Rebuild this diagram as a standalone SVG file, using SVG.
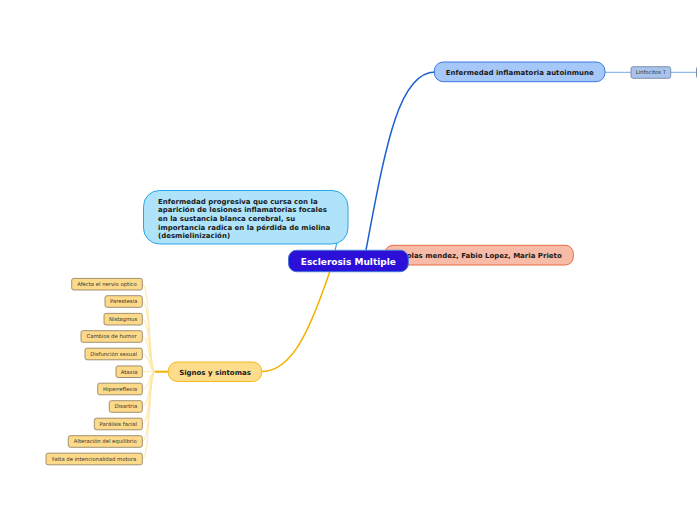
<svg xmlns="http://www.w3.org/2000/svg" width="697" height="520" viewBox="0 0 697 520">
<style>
.t{font-family:"DejaVu Sans",Verdana,sans-serif;font-weight:bold;font-size:7px;fill:#1a1a1a}
.lt{font-family:"DejaVu Sans",Verdana,sans-serif;font-size:5.3px;fill:#333;text-anchor:middle}
.leaf rect{fill:#fdd98a;stroke:#8a7a5a;stroke-width:0.8}
.fan{fill:none;stroke:#fde6a6;stroke-width:1}
</style>
<rect width="697" height="520" fill="#ffffff"/>
<g id="connectors">
<path d="M366,250 C385,150 398,72 435,72" fill="none" stroke="#1a5fd0" stroke-width="1.5"/>
<line x1="605" y1="72.3" x2="631" y2="72.3" stroke="#7aa6e6" stroke-width="1"/>
<line x1="670.7" y1="72.3" x2="697" y2="72.3" stroke="#7aa6e6" stroke-width="1"/>
<path d="M336.7,243 L335,251" fill="none" stroke="#2aa6e6" stroke-width="1.2"/>
<path d="M262,371.5 C292,371.5 310,330 330,271" fill="none" stroke="#f5b000" stroke-width="1.5"/>
<line x1="153" y1="371.7" x2="169" y2="371.7" stroke="#f5b000" stroke-width="2"/>
<path class="fan" d="M142.3,284.2 C150,284.2 149,371.7 155,371.7"/>
<path class="fan" d="M142.3,301.5 C150,301.5 149,371.7 155,371.7"/>
<path class="fan" d="M142.3,319.2 C150,319.2 149,371.7 155,371.7"/>
<path class="fan" d="M142.3,336.5 C150,336.5 149,371.7 155,371.7"/>
<path class="fan" d="M142.3,354 C150,354 149,371.7 155,371.7"/>
<path class="fan" d="M142.3,371.7 L155,371.7"/>
<path class="fan" d="M142.3,389 C150,389 149,371.7 155,371.7"/>
<path class="fan" d="M142.3,406.5 C150,406.5 149,371.7 155,371.7"/>
<path class="fan" d="M142.3,424 C150,424 149,371.7 155,371.7"/>
<path class="fan" d="M142.3,441.5 C150,441.5 149,371.7 155,371.7"/>
<path class="fan" d="M142.3,459 C150,459 149,371.7 155,371.7"/>
</g>
<g id="desc">
<rect x="143.5" y="190.5" width="204.5" height="53.5" rx="16" fill="#aee3f9" stroke="#2aa6e6" stroke-width="1"/>
<text class="t" x="158"><tspan x="158" y="203.5">Enfermedad progresiva que cursa con la</tspan><tspan x="158" y="212.2">aparición de lesiones inflamatorias focales</tspan><tspan x="158" y="220.9">en la sustancia blanca cerebral, su</tspan><tspan x="158" y="229.6">importancia radica en la pérdida de mielina</tspan><tspan x="158" y="238.3">(desmielinización)</tspan></text>
</g>
<g id="autores">
<rect x="385" y="245.3" width="188.3" height="19.7" rx="8" fill="#f8bba8" stroke="#e86a40" stroke-width="1"/>
<text class="t" x="478" y="258" text-anchor="middle">Nicolas mendez, Fabio Lopez, Maria Prieto</text>
</g>
<g id="central">
<rect x="288.5" y="250.3" width="119.8" height="21.4" rx="8" fill="#2d10d8" stroke="#3f78d8" stroke-width="1"/>
<text x="348.4" y="265" text-anchor="middle" style="font-family:'DejaVu Sans',Verdana,sans-serif;font-weight:bold;font-size:9px;fill:#ffffff">Esclerosis Multiple</text>
</g>
<g id="enfermedad">
<rect x="434.3" y="62" width="170.7" height="19.7" rx="9" fill="#a6c8f8" stroke="#3a78e0" stroke-width="1"/>
<text class="t" x="519.7" y="74.6" text-anchor="middle">Enfermedad inflamatoria autoinmune</text>
</g>
<g id="linfocitos" class="leaf">
<rect x="631" y="66.7" width="39.7" height="11.6" rx="2" style="fill:#a8c4ec;stroke:#6b7b96"/>
<text class="lt" x="650.8" y="74.3">Linfocitos T</text>
</g>
<g id="next">
<rect x="696.5" y="66.7" width="20" height="11.6" rx="2" fill="#a8c4ec" stroke="#6b7b96" stroke-width="0.8"/>
</g>
<g id="signos">
<rect x="168.3" y="362" width="93.4" height="19.5" rx="9" fill="#fddc8c" stroke="#f5b820" stroke-width="1"/>
<text class="t" x="215" y="374.6" text-anchor="middle">Signos y sintomas</text>
</g>
<g id="leaf1" class="leaf"><rect x="71.7" y="278.4" width="70.6" height="11.6" rx="2"/><text class="lt" x="107" y="286.1">Afecta el nervio optico</text></g>
<g id="leaf2" class="leaf"><rect x="105" y="295.7" width="37.3" height="11.6" rx="2"/><text class="lt" x="123.6" y="303.4">Parestesia</text></g>
<g id="leaf3" class="leaf"><rect x="104" y="313.4" width="38.3" height="11.6" rx="2"/><text class="lt" x="123.1" y="321.1">Nistagmus</text></g>
<g id="leaf4" class="leaf"><rect x="81" y="330.7" width="61.3" height="11.6" rx="2"/><text class="lt" x="111.6" y="338.4">Cambios de humor</text></g>
<g id="leaf5" class="leaf"><rect x="85" y="348.2" width="57.3" height="11.6" rx="2"/><text class="lt" x="113.6" y="355.9">Disfunción sexual</text></g>
<g id="leaf6" class="leaf"><rect x="116" y="365.9" width="26.3" height="11.6" rx="2"/><text class="lt" x="129.1" y="373.6">Ataxia</text></g>
<g id="leaf7" class="leaf"><rect x="97.7" y="383.2" width="44.6" height="11.6" rx="2"/><text class="lt" x="120" y="390.9">Hiperreflexia</text></g>
<g id="leaf8" class="leaf"><rect x="109.3" y="400.7" width="33" height="11.6" rx="2"/><text class="lt" x="125.8" y="408.4">Disartria</text></g>
<g id="leaf9" class="leaf"><rect x="94.3" y="418.2" width="48" height="11.6" rx="2"/><text class="lt" x="118.3" y="425.9">Parálisis facial</text></g>
<g id="leaf10" class="leaf"><rect x="68.3" y="435.7" width="74" height="11.6" rx="2"/><text class="lt" x="105.3" y="443.4">Alteración del equilibrio</text></g>
<g id="leaf11" class="leaf"><rect x="46" y="453.2" width="96.3" height="11.6" rx="2"/><text class="lt" x="94.1" y="460.9">Falta de intencionalidad motora</text></g>
</svg>
